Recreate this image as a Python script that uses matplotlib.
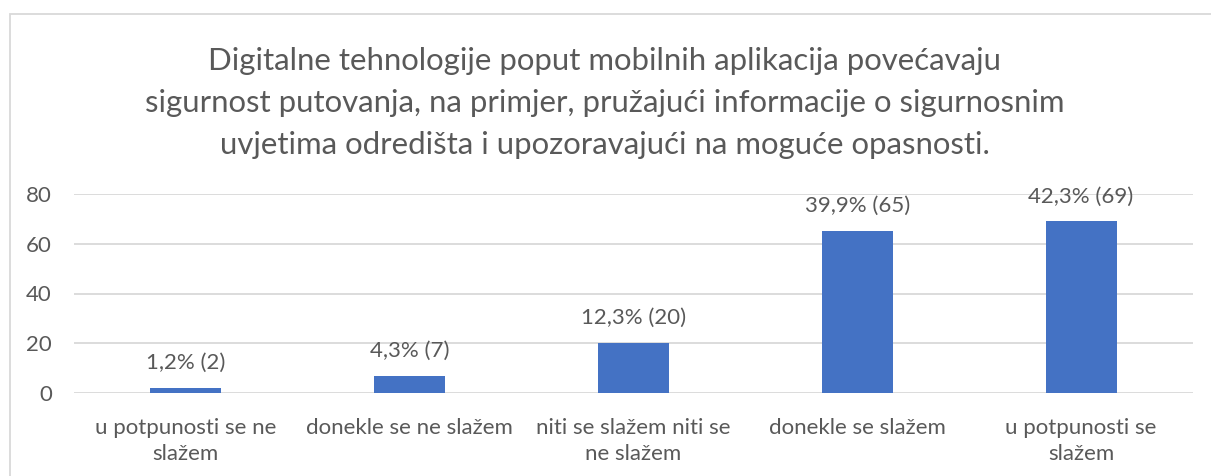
import matplotlib
matplotlib.use("Agg")
import matplotlib.pyplot as plt
from matplotlib.patches import Rectangle

# data
categories = ["u potpunosti se ne\nslažem", "donekle se ne slažem",
              "niti se slažem niti se\nne slažem", "donekle se slažem",
              "u potpunosti se\nslažem"]
counts = [2, 7, 20, 65, 69]
percents = ["1,2%", "4,3%", "12,3%", "39,9%", "42,3%"]
y_ticks = [0, 20, 40, 60, 80]
title = ("Digitalne tehnologije poput mobilnih aplikacija povećavaju\n"
         "sigurnost putovanja, na primjer, pružajući informacije o sigurnosnim\n"
         "uvjetima odredišta i upozoravajući na moguće opasnosti.")

plt.rcParams['font.family'] = ['Lato', 'DejaVu Sans']
text_col = "#595959"
grid_col = "#D9D9D9"
bar_col = "#4472C4"
fs = 16

W, H = 1211, 476
fig = plt.figure(figsize=(W / 100, H / 100), dpi=100)

# chart border (only top and left visible in the crop)
fig.patches.append(Rectangle((10 / W, -0.1), 1.2, (H - 14) / H + 0.1,
                             transform=fig.transFigure, fill=False,
                             edgecolor=grid_col, linewidth=1.3))

ax = fig.add_axes([74 / W, 1 - 393 / H, (1193 - 74) / W, (393 - 194) / H])
x = range(len(categories))
bars = ax.bar(x, counts, width=0.317, color=bar_col, zorder=3)

for b, p, c in zip(bars, percents, counts):
    ax.annotate(f"{p} ({c})", (b.get_x() + b.get_width() / 2, b.get_height()),
                xytext=(0, 18), textcoords="offset points", ha="center",
                va="center", fontsize=fs, color=text_col)

ax.set_xlim(-0.5, len(categories) - 0.5)
ax.set_ylim(0, 80)
ax.set_yticks(y_ticks)
ax.set_xticks(list(x))
ax.set_xticklabels(categories, fontsize=fs, color=text_col, linespacing=1.4)
ax.tick_params(axis="y", labelsize=fs, labelcolor=text_col, length=0, pad=16)
ax.tick_params(axis="x", length=0, pad=18)
ax.grid(axis="y", color=grid_col, linewidth=1.3, zorder=0)
for s in ax.spines.values():
    s.set_visible(False)

fig.text(605 / W, 1 - 103 / H, title, ha="center", va="center",
         fontsize=22.4, color=text_col, linespacing=1.6)

fig.savefig("out.png", dpi=100)
